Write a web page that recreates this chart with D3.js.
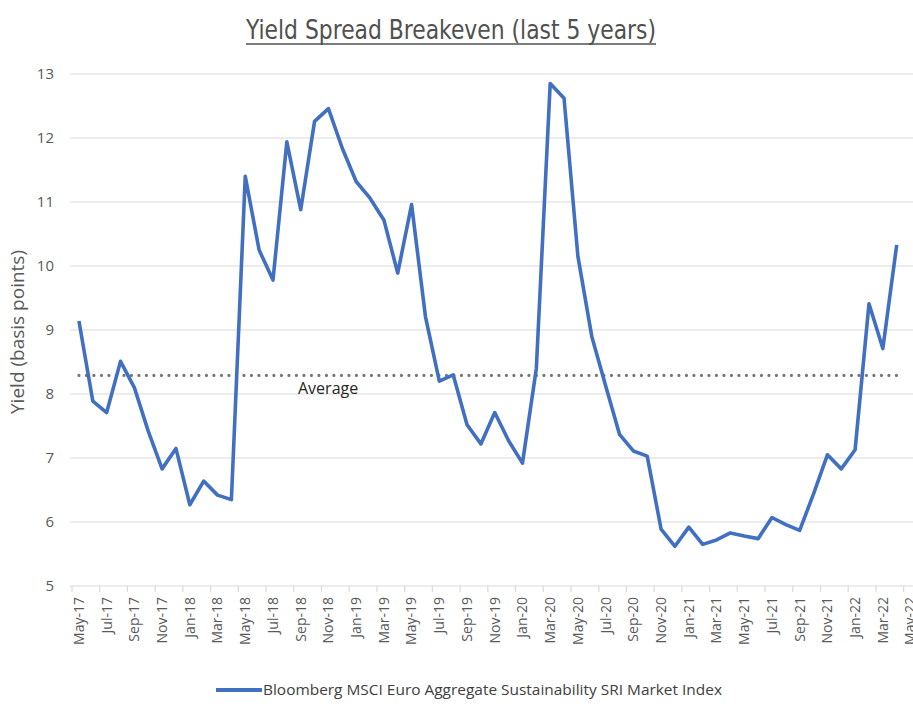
<!DOCTYPE html>
<meta charset="utf-8">
<style>
body { margin: 0; background: #fff; }
text { font-family: "Open Sans", "Noto Sans", sans-serif; }
.grid line { stroke: #d9d9d9; stroke-width: 1.2px; }
.ylab text { fill: #595959; font-size: 15px; }
.xlab text { fill: #595959; font-size: 14px; }
</style>
<body>
<script src="https://cdnjs.cloudflare.com/ajax/libs/d3/7.8.5/d3.min.js"></script>
<script>
// monthly categories, May-17 .. May-22
var months = ["May-17","Jun-17","Jul-17","Aug-17","Sep-17","Oct-17","Nov-17","Dec-17",
  "Jan-18","Feb-18","Mar-18","Apr-18","May-18","Jun-18","Jul-18","Aug-18","Sep-18","Oct-18","Nov-18","Dec-18",
  "Jan-19","Feb-19","Mar-19","Apr-19","May-19","Jun-19","Jul-19","Aug-19","Sep-19","Oct-19","Nov-19","Dec-19",
  "Jan-20","Feb-20","Mar-20","Apr-20","May-20","Jun-20","Jul-20","Aug-20","Sep-20","Oct-20","Nov-20","Dec-20",
  "Jan-21","Feb-21","Mar-21","Apr-21","May-21","Jun-21","Jul-21","Aug-21","Sep-21","Oct-21","Nov-21","Dec-21",
  "Jan-22","Feb-22","Mar-22","Apr-22","May-22"];

// yield spread (basis points), last month has no value
var yieldValues = [9.14, 7.89, 7.71, 8.51, 8.10, 7.42, 6.83, 7.15,
  6.27, 6.64, 6.42, 6.35, 11.40, 10.25, 9.78, 11.94, 10.88, 12.26, 12.46, 11.84,
  11.32, 11.06, 10.72, 9.89, 10.96, 9.21, 8.20, 8.30, 7.52, 7.22, 7.71, 7.27,
  6.92, 8.40, 12.85, 12.62, 10.15, 8.90, 8.13, 7.37, 7.11, 7.03, 5.89, 5.62,
  5.92, 5.65, 5.72, 5.83, 5.78, 5.74, 6.07, 5.96, 5.87, 6.44, 7.05, 6.83,
  7.13, 9.41, 8.71, 10.33, null];

var averageValue = 8.29;
var yTicks = [5, 6, 7, 8, 9, 10, 11, 12, 13];
var seriesName = "Bloomberg MSCI Euro Aggregate Sustainability SRI Market Index";

var width = 913, height = 706;
var svg = d3.select("body").append("svg")
    .attr("width", width)
    .attr("height", height);

var x = d3.scaleBand().domain(months).range([72, 917.5]).padding(0);
var y = d3.scaleLinear().domain([5, 13]).range([586, 74]);
var cx = function(m) { return x(m) + x.bandwidth() / 2; };

// title
svg.append("text")
    .attr("x", 451).attr("y", 39)
    .attr("text-anchor", "middle")
    .attr("fill", "#505050")
    .style("font-family", "'Liberation Sans Narrow', 'DejaVu Sans Condensed', sans-serif")
    .style("font-size", "27px")
    .attr("textLength", 410)
    .attr("lengthAdjust", "spacingAndGlyphs")
    .text("Yield Spread Breakeven (last 5 years)");
svg.append("line")
    .attr("x1", 246).attr("x2", 656).attr("y1", 44).attr("y2", 44)
    .attr("stroke", "#505050").attr("stroke-width", 1.5);

// gridlines
svg.append("g").attr("class", "grid")
  .selectAll("line").data(yTicks).enter().append("line")
    .attr("x1", 70).attr("x2", width)
    .attr("y1", function(d) { return y(d); })
    .attr("y2", function(d) { return y(d); });

// y axis labels
var yAxis = d3.axisLeft(y).tickValues(yTicks).tickSize(0).tickPadding(0).tickFormat(d3.format("d"));
svg.append("g").attr("class", "ylab")
    .attr("transform", "translate(54,0)")
    .call(yAxis)
    .call(function(g) { g.select(".domain").remove(); });

svg.append("text")
    .attr("transform", "translate(24,332) rotate(-90)")
    .attr("text-anchor", "middle")
    .attr("fill", "#595959")
    .style("font-size", "19px")
    .text("Yield (basis points)");

// x axis: ticks between categories every 2 months, labels rotated
var labelMonths = months.filter(function(d, i) { return i % 2 === 0; });
svg.append("g")
  .selectAll("line").data(labelMonths).enter().append("line")
    .attr("x1", function(d) { return x(d); })
    .attr("x2", function(d) { return x(d); })
    .attr("y1", 586).attr("y2", 592)
    .attr("stroke", "#d9d9d9").attr("stroke-width", 1.2);

var xAxis = d3.axisBottom(x).tickValues(labelMonths).tickSize(0).tickPadding(0);
var xg = svg.append("g").attr("class", "xlab")
    .attr("transform", "translate(0,586)")
    .call(xAxis);
xg.select(".domain").remove();
xg.selectAll("text")
    .attr("text-anchor", "end")
    .attr("dy", "0.35em")
    .attr("transform", "translate(0,11) rotate(-90)")
    .attr("y", 0).attr("x", 0);

// average dotted line
svg.append("line")
    .attr("x1", cx(months[0])).attr("x2", cx(months[months.length - 2]))
    .attr("y1", y(averageValue)).attr("y2", y(averageValue))
    .attr("stroke", "#767676").attr("stroke-width", 3.2)
    .attr("stroke-linecap", "round")
    .attr("stroke-dasharray", "0 7.5");
svg.append("text")
    .attr("x", 298).attr("y", y(averageValue) + 19)
    .attr("fill", "#262626")
    .style("font-size", "16px")
    .text("Average");

// series line
var line = d3.line()
    .defined(function(d) { return d.v !== null; })
    .x(function(d) { return cx(d.m); })
    .y(function(d) { return y(d.v); });
var pts = months.map(function(m, i) { return { m: m, v: yieldValues[i] }; });
svg.append("path")
    .datum(pts)
    .attr("d", line)
    .attr("fill", "none")
    .attr("stroke", "#4170c2")
    .attr("stroke-width", 3.6)
    .attr("stroke-linejoin", "round");

// legend
svg.append("line")
    .attr("x1", 216).attr("x2", 262).attr("y1", 690).attr("y2", 690)
    .attr("stroke", "#4170c2").attr("stroke-width", 4);
svg.append("text")
    .attr("x", 263).attr("y", 695)
    .attr("fill", "#404040")
    .style("font-size", "14px")
    .attr("textLength", 459)
    .attr("lengthAdjust", "spacingAndGlyphs")
    .text(seriesName);
</script>
</body>
